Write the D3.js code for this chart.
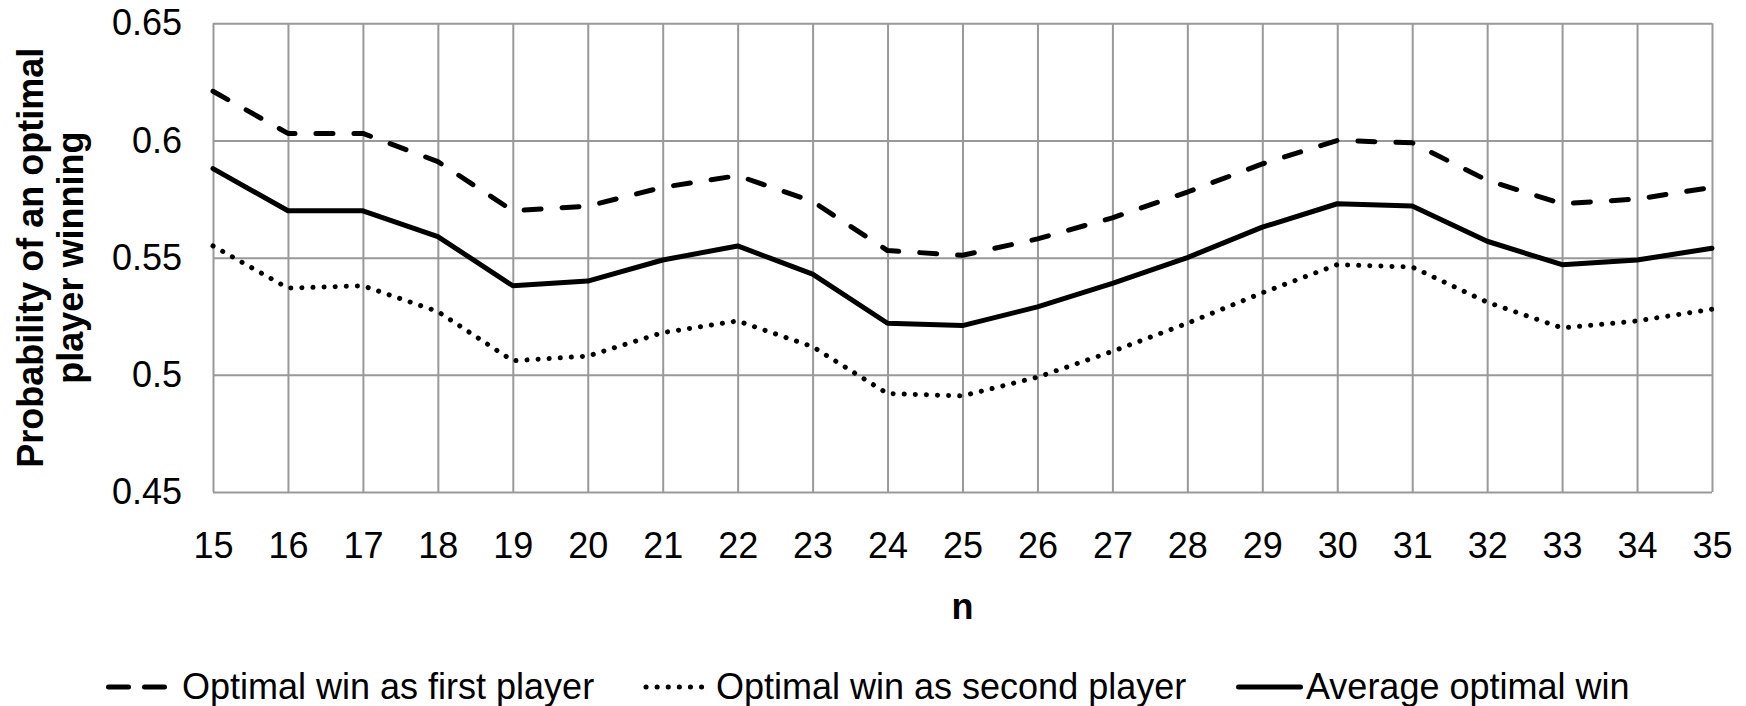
<!DOCTYPE html>
<html>
<head>
<meta charset="utf-8">
<script src="https://cdn.jsdelivr.net/npm/d3@7"></script>
<style>
  body { margin: 0; background: #fff; }
  svg { display: block; font-family: "Liberation Sans", Arial, sans-serif; }
</style>
</head>
<body>
<script>
// chart data
let nValues = [15, 16, 17, 18, 19, 20, 21, 22, 23, 24, 25, 26, 27, 28, 29, 30, 31, 32, 33, 34, 35];
let firstPlayer = [0.621, 0.603, 0.603, 0.591, 0.570, 0.572, 0.580, 0.585, 0.574, 0.553, 0.551,
  0.558, 0.567, 0.578, 0.590, 0.600, 0.599, 0.583, 0.573, 0.575, 0.580];
let secondPlayer = [0.555, 0.537, 0.538, 0.527, 0.506, 0.508, 0.518, 0.523, 0.512, 0.492, 0.491,
  0.499, 0.510, 0.522, 0.535, 0.547, 0.546, 0.531, 0.520, 0.523, 0.528];
let averageWin = [0.588, 0.570, 0.570, 0.559, 0.538, 0.540, 0.549, 0.555, 0.543, 0.522, 0.521,
  0.529, 0.539, 0.550, 0.563, 0.573, 0.572, 0.557, 0.547, 0.549, 0.554];
let yTicks = [0.45, 0.5, 0.55, 0.6, 0.65];
let seriesNames = ["Optimal win as first player", "Optimal win as second player", "Average optimal win"];

let width = 1746;
let height = 706;
let plotLeft = 213, plotRight = 1712, plotTop = 23.3, plotBottom = 492;

let svg = d3.select("body").append("svg")
  .attr("width", width)
  .attr("height", height);

let xScale = d3.scalePoint()
  .domain(nValues)
  .range([plotLeft, plotRight]);
let yScale = d3.scaleLinear()
  .domain([0.45, 0.65])
  .range([plotBottom, plotTop]);

let gridColor = "#999999";

// horizontal grid + y labels
let yAxis = d3.axisLeft(yScale)
  .tickValues(yTicks)
  .tickFormat(d3.format("~g"))
  .tickSizeInner(-(plotRight - plotLeft))
  .tickSizeOuter(0)
  .tickPadding(31);
let gY = svg.append("g")
  .attr("transform", `translate(${plotLeft}, 0)`)
  .call(yAxis);
gY.select(".domain").remove();
gY.selectAll("line").attr("stroke", gridColor).attr("stroke-width", 2);
gY.selectAll("text")
  .attr("fill", "#000")
  .style("font-size", "36px")
  .style("font-family", "'Liberation Sans', Arial, sans-serif");

// vertical grid + x labels
let xAxis = d3.axisBottom(xScale)
  .tickSizeInner(-(plotBottom - plotTop))
  .tickSizeOuter(0)
  .tickPadding(40);
let gX = svg.append("g")
  .attr("transform", `translate(0, ${plotBottom})`)
  .call(xAxis);
gX.select(".domain").remove();
gX.selectAll("line").attr("stroke", gridColor).attr("stroke-width", 2);
gX.selectAll("text")
  .attr("fill", "#000")
  .style("font-size", "36px")
  .style("font-family", "'Liberation Sans', Arial, sans-serif");

// axis titles
svg.append("text")
  .attr("x", (plotLeft + plotRight) / 2)
  .attr("y", 619)
  .attr("text-anchor", "middle")
  .style("font-size", "36px")
  .style("font-weight", "bold")
  .text("n");

let yTitle = svg.append("text")
  .attr("transform", `translate(0, ${(plotTop + plotBottom) / 2}) rotate(-90)`)
  .attr("text-anchor", "middle")
  .style("font-size", "36px")
  .style("font-weight", "bold");
yTitle.append("tspan").attr("x", 0).attr("y", 43).text("Probability of an optimal");
yTitle.append("tspan").attr("x", 0).attr("y", 83).text("player winning");

// lines
let styles = [
  { data: firstPlayer, dash: "17,21" },
  { data: secondPlayer, dash: "0.1,11" },
  { data: averageWin, dash: null }
];

let line = d3.line()
  .x((d, i) => xScale(nValues[i]))
  .y(d => yScale(d));

styles.forEach(s => {
  svg.append("path")
    .datum(s.data)
    .attr("fill", "none")
    .attr("stroke", "#000")
    .attr("stroke-width", 5)
    .attr("stroke-linecap", "round")
    .attr("stroke-linejoin", "round")
    .attr("stroke-dasharray", s.dash)
    .attr("d", line);
});

// legend
let legendY = 687;
let legendItems = [
  { x0: 108.5, x1: 164.5, tx: 182, dash: "20,16" },
  { x0: 646, x1: 702, tx: 716, dash: "0.1,11" },
  { x0: 1238.5, x1: 1300.5, tx: 1306, dash: null }
];
legendItems.forEach((d, i) => {
  svg.append("line")
    .attr("x1", d.x0).attr("x2", d.x1)
    .attr("y1", legendY).attr("y2", legendY)
    .attr("stroke", "#000")
    .attr("stroke-width", 5)
    .attr("stroke-linecap", "round")
    .attr("stroke-dasharray", d.dash);
  svg.append("text")
    .attr("x", d.tx)
    .attr("y", 698.5)
    .style("font-size", "36px")
    .text(seriesNames[i]);
});
</script>
</body>
</html>
